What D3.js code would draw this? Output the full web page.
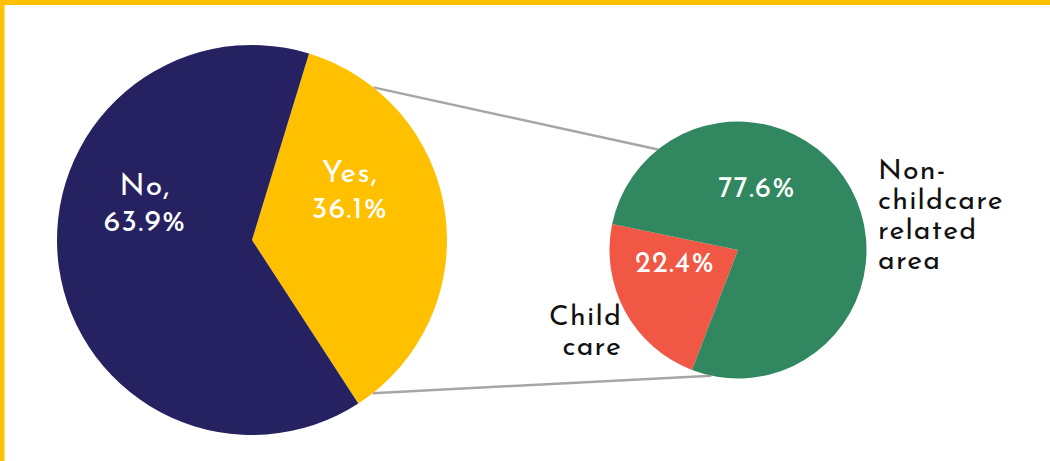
<!DOCTYPE html>
<html>
<head>
<meta charset="utf-8">
<script src="https://cdn.jsdelivr.net/npm/d3@7"></script>
<style>
  html, body { margin: 0; padding: 0; background: #fff; }
  svg { display: block; }
  text { font-family: "Josefin Sans", Lato, "Open Sans", sans-serif; }
</style>
</head>
<body>
<svg id="chart" width="1050" height="461"></svg>
<script>
// ---- data ----
const mainCategories = ["Yes", "No"];
const mainValues = [36.1, 63.9];
const subCategories = ["Child care", "Non-childcare related area"];
const subValues = [22.4, 77.6];

// ---- layout ----
const W = 1050, H = 461;
const deg = Math.PI / 180;
const mainPie = { cx: 252, cy: 240, r: 195, start: 17 * deg };
const subPie = { cx: 738, cy: 250, r: 128.5, start: 201 * deg };
const mainColors = d3.scaleOrdinal().domain(mainCategories).range(["#FFC000", "#262262"]);
const subColors = d3.scaleOrdinal().domain(subCategories).range(["#F05745", "#318760"]);

const svg = d3.select("#chart");

// border
svg.append("rect").attr("x", 0).attr("y", 0).attr("width", W).attr("height", 5).attr("fill", "#FFC000");
svg.append("rect").attr("x", 0).attr("y", 0).attr("width", 4.5).attr("height", H).attr("fill", "#FFC000");

function drawPie(cfg, cats, vals, colors) {
  const pie = d3.pie().sort(null)
    .startAngle(cfg.start).endAngle(cfg.start + 2 * Math.PI);
  const arcs = pie(vals);
  const arc = d3.arc().innerRadius(0).outerRadius(cfg.r);
  const g = svg.append("g").attr("transform", `translate(${cfg.cx},${cfg.cy})`);
  g.selectAll("path").data(arcs).join("path")
    .attr("d", arc)
    .attr("fill", (d, i) => colors(cats[i]));
  return { g, arcs };
}

// connector lines (drawn under pies)
const linesG = svg.append("g");
function pt(cfg, a) { return [cfg.cx + cfg.r * Math.sin(a), cfg.cy - cfg.r * Math.cos(a)]; }
const connectors = [
  [pt(mainPie, 38.5 * deg), pt(subPie, 321.5 * deg)],
  [pt(mainPie, 141.8 * deg), pt(subPie, 192 * deg)]
];
linesG.selectAll("line").data(connectors).join("line")
  .attr("x1", d => d[0][0]).attr("y1", d => d[0][1])
  .attr("x2", d => d[1][0]).attr("y2", d => d[1][1])
  .attr("stroke", "#A6A6A6").attr("stroke-width", 2.5);

drawPie(mainPie, mainCategories, mainValues, mainColors);
drawPie(subPie, subCategories, subValues, subColors);

const fmt = v => d3.format(".1f")(v) + "%";

// main labels (inside, white)
const mainLabelPos = [ [350, 182], [145, 195] ];
mainCategories.forEach((c, i) => {
  const t = svg.append("text")
    .attr("x", mainLabelPos[i][0]).attr("y", mainLabelPos[i][1])
    .attr("text-anchor", "middle").attr("fill", "#fff")
    .attr("font-size", 30).attr("letter-spacing", 1.2);
  t.append("tspan").attr("x", mainLabelPos[i][0]).text(c + ",");
  t.append("tspan").attr("x", mainLabelPos[i][0]).attr("dy", 36).text(fmt(mainValues[i]));
});

// sub percentages (inside, white)
const subPctPos = [ [675, 272], [757, 197] ];
subCategories.forEach((c, i) => {
  svg.append("text")
    .attr("x", subPctPos[i][0]).attr("y", subPctPos[i][1])
    .attr("text-anchor", "middle").attr("fill", "#fff")
    .attr("font-size", 29).attr("letter-spacing", 1.2)
    .text(fmt(subValues[i]));
});

// sub category names (outside, dark)
const subNameLines = [ ["Child", "care"], ["Non-", "childcare", "related", "area"] ];
const subNamePos = [ { x: 622, y: 325, anchor: "end", lh: 30 }, { x: 878, y: 179, anchor: "start", lh: 30 } ];
subNameLines.forEach((lines, i) => {
  const p = subNamePos[i];
  const t = svg.append("text")
    .attr("x", p.x).attr("y", p.y).attr("text-anchor", p.anchor)
    .attr("fill", "#111").attr("font-size", 28.5).attr("letter-spacing", 1.2);
  lines.forEach((l, j) => {
    t.append("tspan").attr("x", p.x).attr("dy", j === 0 ? 0 : p.lh).text(l);
  });
});
</script>
</body>
</html>
